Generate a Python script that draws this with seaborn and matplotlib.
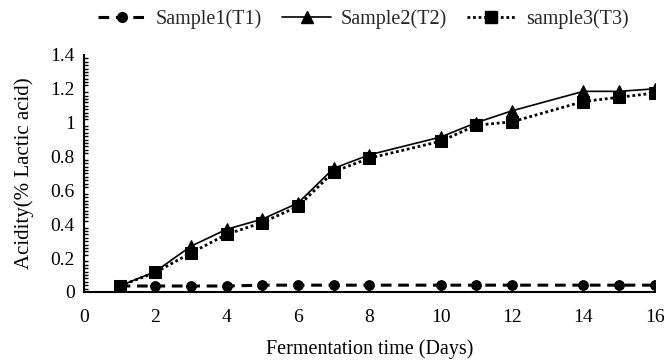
import matplotlib
matplotlib.use("Agg")
import matplotlib.pyplot as plt
from matplotlib.lines import Line2D
from matplotlib.ticker import MultipleLocator, FuncFormatter
import seaborn as sns
import pandas as pd

days = [1, 2, 3, 4, 5, 6, 7, 8, 10, 11, 12, 14, 15, 16]
sample1 = [0.035, 0.035, 0.035, 0.035, 0.04, 0.04, 0.04, 0.04, 0.04, 0.04, 0.04, 0.04, 0.04, 0.04]
sample2 = [0.035, 0.12, 0.27, 0.37, 0.43, 0.525, 0.73, 0.81, 0.915, 1.0, 1.07, 1.185, 1.185, 1.2]
sample3 = [0.035, 0.115, 0.23, 0.34, 0.41, 0.505, 0.71, 0.79, 0.89, 0.985, 1.005, 1.125, 1.15, 1.175]
labels = ["Sample1(T1)", "Sample2(T2)", "sample3(T3)"]

sns.set_theme(style="white")
plt.rcParams["font.family"] = ["Liberation Serif", "DejaVu Serif"]

fig = plt.figure(figsize=(6.66, 3.64), dpi=100)
ax = fig.add_axes([0.126, 0.198, 0.857, 0.651])

styles = [
    dict(linestyle=(0, (3.5, 2.2)), marker="o", markersize=7, linewidth=2.2),
    dict(linestyle="-", marker="^", markersize=8, linewidth=1.2),
    dict(linestyle=(0, (1, 1)), marker="s", markersize=8.5, linewidth=2.0),
]

for vals, lab, st in zip([sample1, sample2, sample3], labels, styles):
    df = pd.DataFrame({"day": days, "acidity": vals})
    sns.lineplot(data=df, x="day", y="acidity", ax=ax, color="black",
                 markeredgecolor="black", markerfacecolor="black", **st)

ax.set_xlim(0, 16)
ax.set_ylim(0, 1.4)
ax.xaxis.set_major_locator(MultipleLocator(2))
ax.yaxis.set_major_locator(MultipleLocator(0.2))
ax.yaxis.set_minor_locator(MultipleLocator(0.02))
ax.yaxis.set_major_formatter(FuncFormatter(lambda v, p: f"{v:g}"))

for side in ["top", "right"]:
    ax.spines[side].set_visible(False)
for side in ["left", "bottom"]:
    ax.spines[side].set_color("black")
    ax.spines[side].set_linewidth(1.5)

ax.tick_params(axis="both", which="major", direction="inout", length=7, width=1.5,
               colors="black", labelsize=14)
ax.tick_params(axis="x", which="major", pad=9)
ax.tick_params(axis="y", which="major", pad=3)
ax.tick_params(axis="y", which="minor", direction="in", length=3, width=1.0,
               colors="black", left=True)

ax.set_xlabel("Fermentation time (Days)", fontsize=14.5, color="black", labelpad=9)
ax.set_ylabel("Acidity(% Lactic acid)", fontsize=15, color="black", labelpad=12)

handles = [Line2D([], [], color="black", markerfacecolor="black", **st) for st in styles]
fig.legend(handles, labels, loc="center", bbox_to_anchor=(0.545, 0.948), ncol=3,
           frameon=False, fontsize=14.5, handlelength=2.4, columnspacing=1.0,
           handletextpad=0.5)

fig.savefig("out.png", dpi=100)
